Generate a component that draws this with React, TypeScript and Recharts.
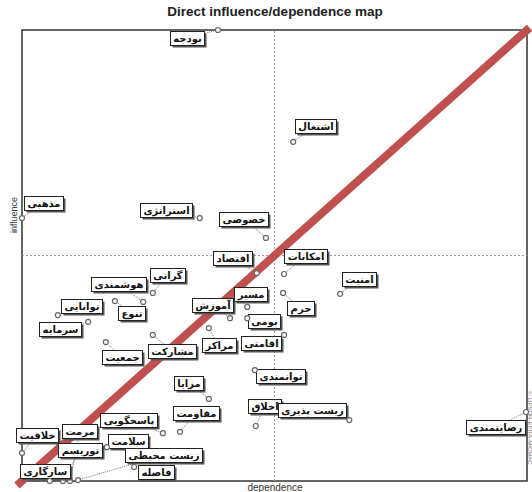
import React from 'react';
import { ScatterChart, Scatter, XAxis, YAxis, ReferenceLine, ReferenceArea } from 'recharts';

// MICMAC variables
const variables = [
  'بودجه', 'اشتغال', 'مذهبی', 'استراتژی', 'خصوصی', 'اقتصاد', 'امکانات', 'امنیت', 'جرم',
  'مسیر', 'آموزش', 'بومی', 'اقامتی', 'مراکز', 'مشارکت', 'گرانی', 'هوشمندی', 'تنوع',
  'توانایی', 'سرمایه', 'جمعیت', 'مزایا', 'مقاومت', 'توانمندی', 'اخلاق', 'زیست پذیری',
  'رضایتمندی', 'پاسخگویی', 'سلامت', 'زیست محیطی', 'فاصله', 'خلاقیت', 'مرمت', 'توریسم', 'سازگاری',
];

const dependence = [
  38.8, 53.7, 0, 35.2, 48.3, 46.5, 51.9, 63.0, 51.7,
  44.6, 41.2, 44.6, 51.9, 37.0, 25.9, 25.9, 24.0, 18.4,
  7.1, 13.1, 16.6, 37.0, 31.3, 46.1, 46.3, 64.8,
  99.8, 27.9, 16.8, 11.1, 22.2, 0, 9.5, 8.1, 5.5,
];

const influence = [
  100, 75.2, 58.3, 58.3, 53.9, 46.1, 45.9, 41.5, 41.7,
  38.6, 36.1, 36.1, 32.4, 33.9, 32.4, 41.7, 39.7, 39.9,
  36.8, 35.3, 30.8, 18.2, 10.9, 24.6, 12.2, 13.5,
  15.3, 10.6, 7.5, 0.2, 3.1, 6.2, 0, 0, 0,
];

// where each label box sits relative to its point (px)
const labelOffsets: [number, number][] = [
  [-31, 8], [22, -16], [21, -15], [-34, -8], [-22, -19], [-24, -15], [21, -18], [19, -15], [17, 15],
  [3, -13], [-18, -13], [17, 3], [-23, 8], [10, 17], [19, 16], [15, -18], [-25, -18], [17, 12],
  [24, -9], [-28, 7], [16, 15], [-20, -16], [16, -19], [26, 6], [9, -20], [-37, -10],
  [-30, 15], [-34, -13], [21, -6], [85, -25], [22, 5], [15, -18], [10, -50], [17, -31], [-5, -10],
];

const data = variables.map((name, i) => ({
  name,
  x: dependence[i],
  y: influence[i],
  idx: i,
}));

const LABEL_FONT = 'bold 10px "DejaVu Sans"';
let ctx: CanvasRenderingContext2D | null = null;
const textWidth = (s: string) => {
  if (!ctx) ctx = document.createElement('canvas').getContext('2d');
  if (!ctx) return s.length * 5;
  ctx.font = LABEL_FONT;
  return ctx.measureText(s).width;
};

const LabelledDot = (props: any) => {
  const { cx, cy, payload } = props;
  const [dx, dy] = labelOffsets[payload.idx];
  const w = Math.round(textWidth(payload.name)) + 6;
  const h = 14;
  const lx = Math.round(cx + dx - w / 2) + 0.5;
  const ly = Math.round(cy + dy - h / 2) + 0.5;
  return (
    <g>
      <line x1={cx} y1={cy} x2={cx + dx} y2={cy + dy} stroke="#777" strokeWidth={1} strokeDasharray="1 1" />
      <rect x={lx + 2} y={ly + 2} width={w} height={h} fill="#555" />
      <rect x={lx} y={ly} width={w} height={h} fill="#fff" stroke="#222" strokeWidth={1} />
      <text x={lx + w / 2} y={ly + 10.5} textAnchor="middle" fontFamily="DejaVu Sans" fontWeight="bold" fontSize={10} fill="#111">
        {payload.name}
      </text>
      <circle cx={cx} cy={cy} r={2.5} fill="#fff" stroke="#666" strokeWidth={1.2} />
    </g>
  );
};

export default function App() {
  return (
    <div style={{ position: 'absolute', left: 0, top: 0, width: 532, height: 492, background: '#fff' }}>
      <ScatterChart width={532} height={492} margin={{ top: 30, right: 5, bottom: 11, left: 22 }}>
        <XAxis type="number" dataKey="x" domain={[0, 100]} hide />
        <YAxis type="number" dataKey="y" domain={[0, 100]} hide />
        <ReferenceArea x1={0} x2={100} y1={0} y2={100} fill="#fff" fillOpacity={0} stroke="#333" strokeWidth={1.5} />
        <ReferenceLine x={50} stroke="#999" strokeDasharray="2 2" />
        <ReferenceLine y={50} stroke="#999" strokeDasharray="2 2" />
        <Scatter data={data} shape={<LabelledDot />} isAnimationActive={false} />
        <ReferenceLine
          segment={[{ x: -1, y: -1 }, { x: 100.5, y: 100.5 }]}
          stroke="#c0504d"
          strokeWidth={8}
          ifOverflow="visible"
        />
      </ScatterChart>
      <div style={{ position: 'absolute', left: 0, width: 550, top: 4, textAlign: 'center', font: 'bold 13.5px "Liberation Sans", Arial', color: '#222' }}>
        Direct influence/dependence map
      </div>
      <div style={{ position: 'absolute', left: 0, width: 550, top: 482, textAlign: 'center', font: '10px "Liberation Sans", Arial', color: '#333' }}>
        dependence
      </div>
      <div style={{ position: 'absolute', left: 14, top: 215, transform: 'translate(-50%, -50%) rotate(-90deg)', font: '9px "Liberation Sans", Arial', color: '#333' }}>
        influence
      </div>
      <div style={{ position: 'absolute', left: 530, top: 428, transform: 'translate(-50%, -50%) rotate(90deg)', font: '6px "Liberation Sans", Arial', color: '#777', whiteSpace: 'nowrap' }}>
        © LIPSOR-EPITA-MICMAC
      </div>
    </div>
  );
}
